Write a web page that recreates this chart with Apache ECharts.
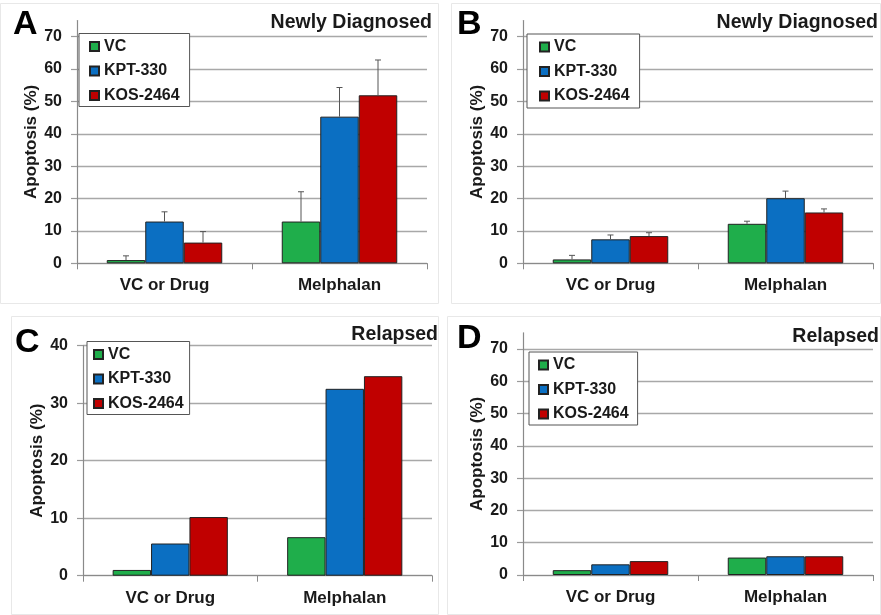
<!DOCTYPE html>
<html>
<head>
<meta charset="utf-8">
<script src="https://cdn.jsdelivr.net/npm/echarts@6/dist/echarts.min.js"></script>
<style>
  html, body { margin: 0; padding: 0; background: #fff; }
  #chart { width: 881px; height: 615px; }
</style>
</head>
<body>
<div id="chart"></div>
<script>
  // categories and groups
  var categories = ['VC or Drug', 'Melphalan'];
  var groups = ['VC', 'KPT-330', 'KOS-2464'];
  var colors = ['#1fae4b', '#0b6fc2', '#c00000'];

  // A - newly diagnosed
  var aVC = [1.0, 12.9];
  var aKPT = [12.9, 45.3];
  var aKOS = [6.4, 51.9];
  var aErrVC = [1.3, 9.2];
  var aErrKPT = [3.0, 9.0];
  var aErrKOS = [3.4, 10.9];

  // B - newly diagnosed
  var bVC = [1.2, 12.2];
  var bKPT = [7.4, 20.1];
  var bKOS = [8.4, 15.7];
  var bErrVC = [1.25, 0.8];
  var bErrKPT = [1.35, 2.2];
  var bErrKOS = [1.05, 1.1];

  // C - relapsed
  var cVC = [1.0, 6.7];
  var cKPT = [5.6, 32.5];
  var cKOS = [10.2, 34.7];

  // D - relapsed
  var dVC = [1.5, 5.4];
  var dKPT = [3.3, 5.8];
  var dKOS = [4.3, 5.8];

  var font = 'Liberation Sans, Arial, sans-serif';
  var textColor = '#1a1a1a';
  var catGap = 0.34;

  var panels = [
    { letter: 'A', title: 'Newly Diagnosed', grid: { left: 77, top: 20.5, width: 350, height: 242.8 }, max: 75,
      values: [aVC, aKPT, aKOS], errors: [aErrVC, aErrKPT, aErrKOS],
      legend: { left: 79, top: 33.5, padding: [5, 10, 3, 10] }, letterPos: [13, 24.5], titlePos: [432, 23] },
    { letter: 'B', title: 'Newly Diagnosed', grid: { left: 523, top: 20.5, width: 350, height: 242.8 }, max: 75,
      values: [bVC, bKPT, bKOS], errors: [bErrVC, bErrKPT, bErrKOS],
      legend: { left: 527, top: 34, padding: [5, 10, 4, 12] }, letterPos: [457, 24.5], titlePos: [878, 23] },
    { letter: 'C', title: 'Relapsed', grid: { left: 83, top: 345.7, width: 349, height: 230 }, max: 40,
      values: [cVC, cKPT, cKOS], errors: null,
      legend: { left: 87, top: 341.5, padding: [5, 6, 3, 6] }, letterPos: [15, 343], titlePos: [438, 335] },
    { letter: 'D', title: 'Relapsed', grid: { left: 523, top: 332.8, width: 350, height: 242.2 }, max: 75,
      values: [dVC, dKPT, dKOS], errors: null,
      legend: { left: 529, top: 352, padding: [5, 9, 3, 9] }, letterPos: [457, 339], titlePos: [879, 337] }
  ];

  var borders = [
    [0.5, 3.5, 438, 300],
    [451.5, 3.5, 429, 300],
    [11.5, 316.5, 427, 298],
    [447.5, 316.5, 433, 298]
  ];

  function errorRender(k) {
    return function (params, api) {
      var i = api.value(0);
      var v = api.value(1);
      var e = api.value(2);
      var band = api.size([1, 0])[0];
      var bw = band * (1 - catGap) / 3;
      var base = api.coord([i, v]);
      var top = api.coord([i, v + e]);
      var x = base[0] + (k - 1) * bw;
      var st = { stroke: '#555', lineWidth: 1 };
      return {
        type: 'group',
        children: [
          { type: 'line', shape: { x1: x, y1: base[1], x2: x, y2: top[1] }, style: st },
          { type: 'line', shape: { x1: x - 3, y1: top[1], x2: x + 3, y2: top[1] }, style: st }
        ]
      };
    };
  }

  var grids = [], xAxes = [], yAxes = [], series = [], legends = [], graphics = [];

  borders.forEach(function (b) {
    graphics.push({
      type: 'rect', shape: { x: b[0], y: b[1], width: b[2], height: b[3] },
      style: { fill: null, stroke: '#e8e8e8', lineWidth: 1 }, z: -1
    });
  });

  panels.forEach(function (p, gi) {
    grids.push(p.grid);
    xAxes.push({
      type: 'category', gridIndex: gi, data: categories,
      axisLine: { lineStyle: { color: '#8a8a8a', width: 1.2 } },
      axisTick: { show: true, length: 6, lineStyle: { color: '#8a8a8a' } },
      axisLabel: { fontSize: 17, fontWeight: 'bold', fontFamily: font, color: textColor, margin: 14 }
    });
    yAxes.push({
      type: 'value', gridIndex: gi, min: 0, max: p.max, interval: 10,
      name: 'Apoptosis (%)', nameLocation: 'middle', nameGap: 35,
      nameTextStyle: { fontSize: 17, fontWeight: 'bold', fontFamily: font, color: textColor },
      axisLine: { show: true, lineStyle: { color: '#8a8a8a', width: 1.2 } },
      axisTick: { show: true, length: 6, lineStyle: { color: '#9a9a9a', width: 1.2 } },
      axisLabel: { fontSize: 16, fontWeight: 'bold', fontFamily: font, color: textColor, margin: 15,
        showMaxLabel: p.max % 10 === 0 },
      splitLine: { show: true, showMaxLine: p.max % 10 === 0, lineStyle: { color: '#a8a8a8', width: 1.4 } }
    });
    groups.forEach(function (name, k) {
      series.push({
        name: name, type: 'bar', xAxisIndex: gi, yAxisIndex: gi,
        data: p.values[k], barGap: '0%', barCategoryGap: (catGap * 100) + '%',
        itemStyle: { color: colors[k], borderColor: '#222', borderWidth: 1 }
      });
    });
    if (p.errors) {
      groups.forEach(function (name, k) {
        series.push({
          type: 'custom', xAxisIndex: gi, yAxisIndex: gi, z: 5,
          renderItem: errorRender(k),
          encode: { x: 0, y: 1 },
          data: categories.map(function (c, i) { return [i, p.values[k][i], p.errors[k][i]]; })
        });
      });
    }
    legends.push({
      left: p.legend.left, top: p.legend.top, orient: 'vertical', data: groups,
      icon: 'rect', itemWidth: 9, itemHeight: 9, itemGap: 8.5,
      padding: p.legend.padding, backgroundColor: '#fff', borderColor: '#555', borderWidth: 1,
      selectedMode: false,
      textStyle: { fontSize: 16, fontWeight: 'bold', fontFamily: font, color: textColor, lineHeight: 16 }
    });
    graphics.push({
      type: 'text', x: p.letterPos[0], y: p.letterPos[1],
      style: { text: p.letter, fontSize: 34, fontWeight: 'bold', fontFamily: font, fill: '#000',
        align: 'left', verticalAlign: 'middle' }
    });
    graphics.push({
      type: 'text', x: p.titlePos[0], y: p.titlePos[1],
      style: { text: p.title, fontSize: 19.5, fontWeight: 'bold', fontFamily: font, fill: textColor,
        align: 'right', verticalAlign: 'middle' }
    });
  });

  var myChart = echarts.init(document.getElementById('chart'));
  myChart.setOption({
    animation: false,
    backgroundColor: '#fff',
    grid: grids,
    xAxis: xAxes,
    yAxis: yAxes,
    legend: legends,
    series: series,
    graphic: graphics
  });
</script>
</body>
</html>
